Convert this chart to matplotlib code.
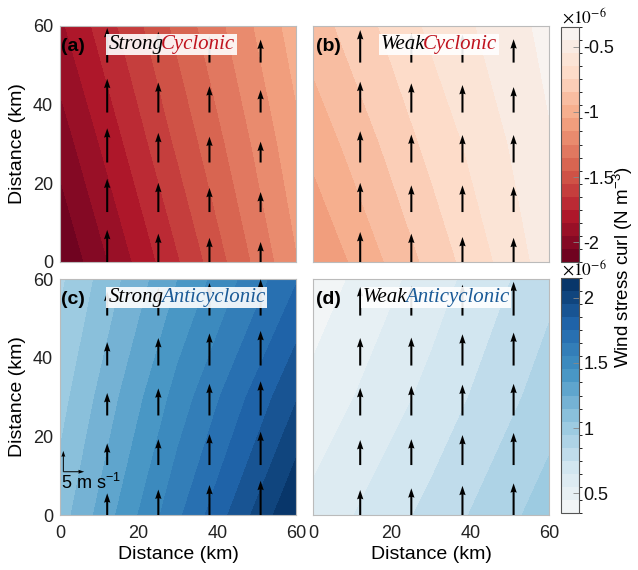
import numpy as np
import matplotlib
matplotlib.use("Agg")
import matplotlib.pyplot as plt
from matplotlib.colors import ListedColormap, BoundaryNorm
from matplotlib.patches import Rectangle
from matplotlib.transforms import Bbox

plt.rcParams['font.family'] = ['Liberation Sans', 'DejaVu Sans']
plt.rcParams['mathtext.fontset'] = 'custom'
plt.rcParams['mathtext.rm'] = 'Liberation Sans'
plt.rcParams['mathtext.it'] = 'Liberation Sans:italic'
plt.rcParams['mathtext.bf'] = 'Liberation Sans:bold'

# ---------------- data ----------------
# wind stress curl (x 1e-6 N m^-3) read on a coarse grid (km)
curl_x = [0, 30, 60]
curl_y = [0, 30, 60]
curl_a = [[-2.15, -1.66, -1.16],
          [-2.01, -1.53, -1.08],
          [-1.87, -1.42, -1.00]]
curl_b = [[-1.15, -0.82, -0.50],
          [-1.02, -0.72, -0.46],
          [-0.90, -0.63, -0.42]]
curl_c = [[1.10, 1.63, 2.15],
          [1.01, 1.49, 1.94],
          [0.93, 1.35, 1.74]]
curl_d = [[0.58, 0.78, 1.00],
          [0.48, 0.68, 0.90],
          [0.39, 0.60, 0.82]]

# wind vectors (northward speed, m/s); rows = arrow_y, cols = arrow_x
arrow_x = [12, 25, 38, 51]
arrow_y = [0, 12.7, 25.3, 38, 50.7]
wind_a = [[7.7, 6.8, 5.8, 4.8],
          [8.0, 7.0, 5.8, 4.8],
          [8.2, 7.1, 6.2, 5.0],
          [8.1, 7.2, 6.3, 5.4],
          [8.3, 7.4, 6.4, 5.5]]
wind_b = [[7.2, 6.8, 6.0, 5.8],
          [7.0, 6.4, 6.4, 6.1],
          [7.5, 6.7, 6.6, 6.6],
          [7.4, 7.0, 6.6, 6.1],
          [7.8, 7.0, 6.7, 5.6]]
wind_c = [[5.2, 6.1, 7.2, 8.2],
          [5.2, 6.2, 7.4, 8.0],
          [5.4, 6.5, 7.6, 8.2],
          [5.6, 6.6, 7.7, 8.3],
          [5.7, 6.7, 7.8, 8.7]]
wind_d = [[6.0, 6.4, 7.0, 7.6],
          [6.0, 6.2, 7.2, 7.7],
          [6.6, 7.1, 7.4, 7.6],
          [6.6, 6.7, 7.5, 7.9],
          [6.8, 7.0, 7.4, 8.1]]

scale_speed = 5  # m/s reference arrow

levels_red = np.round(np.linspace(-2.15, -0.35, 19), 3)
levels_blue = np.round(np.linspace(0.35, 2.15, 19), 3)
ticks_red = [-2, -1.5, -1, -0.5]
ticklabels_red = ['-2', '-1.5', '-1', '-0.5']
ticks_blue = [0.5, 1, 1.5, 2]
ticklabels_blue = ['0.5', '1', '1.5', '2']
axis_ticks = [0, 20, 40, 60]

panels = [
    ('(a)', 'Strong', 'Cyclonic', curl_a, wind_a, 'red'),
    ('(b)', 'Weak', 'Cyclonic', curl_b, wind_b, 'red'),
    ('(c)', 'Strong', 'Anticyclonic', curl_c, wind_c, 'blue'),
    ('(d)', 'Weak', 'Anticyclonic', curl_d, wind_d, 'blue'),
]

# ---------------- style ----------------
rdbu = plt.get_cmap('RdBu')
n = 18
cmap_red = ListedColormap(rdbu(0.5 * (np.arange(n) + 0.5) / n))
cmap_blue = ListedColormap(rdbu(0.5 + 0.5 * (np.arange(n) + 0.5) / n))
word_color = {'Cyclonic': '#c0141f', 'Anticyclonic': '#1b5b97'}

W, H = 638, 570
fig = plt.figure(figsize=(W / 100, H / 100), dpi=100)

def frac(x0, y0, x1, y1):
    return [x0 / W, 1 - y1 / H, (x1 - x0) / W, (y1 - y0) / H]

rects = [frac(60, 26, 296, 262), frac(313, 26, 549, 262),
         frac(60, 279, 296, 515), frac(313, 279, 549, 515)]
cax_rects = [frac(561, 27, 579, 262), frac(561, 278, 579, 513)]

XX, YY = np.meshgrid(curl_x, curl_y)
AX, AY = np.meshgrid(arrow_x, arrow_y)
qscale = 1 / 1.06

axes = []
sets = {}
label_texts = []
for i, (lab, w1, w2, curl, wind, kind) in enumerate(panels):
    ax = fig.add_axes(rects[i])
    axes.append(ax)
    if kind == 'red':
        cmap, levels = cmap_red, levels_red
    else:
        cmap, levels = cmap_blue, levels_blue
    norm = BoundaryNorm(levels, ncolors=n)
    cs = ax.contourf(XX, YY, np.array(curl), levels=levels, cmap=cmap, norm=norm)
    sets[kind] = cs
    V = np.array(wind)
    ax.quiver(AX, AY, np.zeros_like(V), V, angles='xy', scale_units='xy',
              scale=qscale, units='xy', width=0.52, headwidth=3.1,
              headlength=4.6, headaxislength=4.2, pivot='tail',
              color='black', zorder=3)
    ax.set_xlim(0, 60)
    ax.set_ylim(0, 60)
    ax.set_xticks(axis_ticks)
    ax.set_yticks(axis_ticks)
    ax.tick_params(length=0, labelsize=13, colors='#222222')
    ax.tick_params(axis='x', pad=7)
    ax.tick_params(axis='y', pad=5)
    for s in ax.spines.values():
        s.set_color('#bbbbbb')
        s.set_linewidth(0.8)
    if i in (0, 1):
        ax.set_xticklabels([])
    else:
        ax.set_xlabel('Distance (km)', fontsize=14, labelpad=3)
    if i in (1, 3):
        ax.set_yticklabels([])
    else:
        ax.set_ylabel('Distance (km)', fontsize=14, labelpad=5)

    ax.text(0.3 if i in (0, 2) else 0.8, 54.9, lab, fontsize=14,
            fontweight='bold', va='center', ha='left', zorder=6)
    tx = {0: 12.3, 1: 17.3, 2: 12.3, 3: 12.7}[i]
    t1 = ax.text(tx, 55.3, w1, fontsize=15, style='italic',
                 family=['Liberation Serif', 'DejaVu Serif'],
                 va='center', ha='left', color='black', zorder=6)
    t2 = ax.annotate(w2, xy=(1, 0), xycoords=t1, xytext=(-2.5, 0),
                     textcoords='offset pixels', va='bottom', ha='left',
                     fontsize=15, style='italic',
                     family=['Liberation Serif', 'DejaVu Serif'],
                     color=word_color[w2], zorder=6)
    label_texts.append((ax, t1, t2))

# reference arrow in (c)
axc = axes[2]
axc.quiver([0.85, 0.85], [11, 11], [0, scale_speed], [scale_speed, 0],
           angles='xy', scale_units='xy', scale=qscale, units='xy',
           width=0.25, headwidth=4, headlength=6, headaxislength=5.5,
           pivot='tail', color='black', zorder=4)
axc.text(0.2, 8.1, '5 m s$^{-1}$', fontsize=13, va='center', ha='left', zorder=6)

# colorbars
for j, kind in enumerate(['red', 'blue']):
    cax = fig.add_axes(cax_rects[j])
    cb = fig.colorbar(sets[kind], cax=cax)
    if kind == 'red':
        cb.set_ticks(ticks_red)
        cb.set_ticklabels(ticklabels_red)
    else:
        cb.set_ticks(ticks_blue)
        cb.set_ticklabels(ticklabels_blue)
    cax.tick_params(direction='in', length=4, width=0.6, color='#888888',
                    labelsize=13, pad=3, labelcolor='#111111')
    cb.outline.set_edgecolor('#555555')
    cb.outline.set_linewidth(0.8)
    ytop = 23 if j == 0 else 275
    fig.text(562 / W, 1 - ytop / H, r'$\times10^{-6}$', fontsize=12.5,
             math_fontfamily='stix', ha='left', va='baseline')

fig.text(623 / W, 1 - 267 / H, 'Wind stress curl (N m$^{-3}$)', fontsize=13.5,
         rotation=90, va='center', ha='center')

# semi-transparent boxes behind the panel titles
fig.canvas.draw()
r = fig.canvas.get_renderer()
for ax, t1, t2 in label_texts:
    bb = Bbox.union([t1.get_window_extent(r), t2.get_window_extent(r)])
    bb = Bbox.from_extents(bb.x0 - 2, bb.y0 - 1, bb.x1 + 2, bb.y1 + 1)
    bb_ax = bb.transformed(ax.transAxes.inverted())
    ax.add_patch(Rectangle((bb_ax.x0, bb_ax.y0), bb_ax.width, bb_ax.height,
                           transform=ax.transAxes, facecolor='white',
                           alpha=0.9, edgecolor='none', zorder=5))

fig.savefig('out.png', dpi=100)
